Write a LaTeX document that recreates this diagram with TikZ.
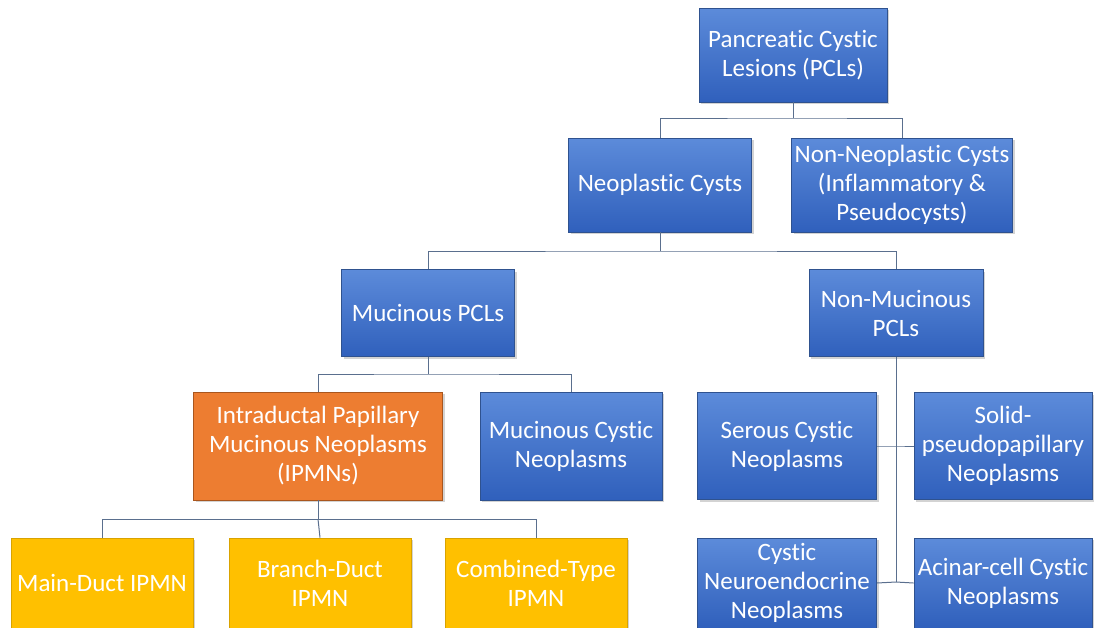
\documentclass[tikz,border=0pt]{standalone}
\usepackage{fontspec}
\setmainfont[Ligatures=NoCommon]{Carlito}
\usetikzlibrary{shadows}

\definecolor{blueTop}{HTML}{5C8BDA}
\definecolor{blueBot}{HTML}{3060BC}
\definecolor{blueLine}{HTML}{2F528F}
\definecolor{orangeFill}{HTML}{ED7D31}
\definecolor{orangeLine}{HTML}{A9561E}
\definecolor{yellowFill}{HTML}{FFC000}
\definecolor{yellowLine}{HTML}{D9A300}
\definecolor{linkCol}{HTML}{5A6F8E}

\tikzset{
    box/.style={draw=blueLine, line width=0.8pt, top color=blueTop, bottom color=blueBot,
        text=white, align=center, inner sep=2pt, font=\fontsize{25}{29}\selectfont,
        drop shadow={opacity=0.35, shadow xshift=2pt, shadow yshift=-2pt}},
    hotbox/.style={box, draw=orangeLine, top color=orangeFill, bottom color=orangeFill},
    subbox/.style={box, draw=yellowLine, top color=yellowFill, bottom color=yellowFill},
    link/.style={draw=linkCol, line width=1pt}
}

\begin{document}
\begin{tikzpicture}[x=1pt, y=-1pt]
\useasboundingbox (0,0) rectangle (1094,627);

% Top level
\node[box, minimum width=188pt, minimum height=94pt] (pcl) at (793,55) {Pancreatic Cystic\\Lesions (PCLs)};
\node[box, minimum width=183pt, minimum height=94pt] (neo) at (660,185) {Neoplastic Cysts};
\node[box, minimum width=221pt, minimum height=94pt] (nonneo) at (902,185) {Non-Neoplastic Cysts\\(Inflammatory \&\\Pseudocysts)};

% Mucinous / non-mucinous
\node[box, minimum width=173pt, minimum height=87pt] (muc) at (428,313) {Mucinous PCLs};
\node[box, minimum width=174pt, minimum height=87pt] (nonmuc) at (896,313) {Non-Mucinous\\PCLs};

\node[hotbox, minimum width=249pt, minimum height=108pt] (ipmn) at (318,446) {Intraductal Papillary\\Mucinous Neoplasms\\(IPMNs)};
\node[box, minimum width=182pt, minimum height=108pt] (mcn) at (571,446) {Mucinous Cystic\\Neoplasms};

% Non-mucinous types
\node[box, minimum width=179pt, minimum height=107pt] (serous) at (787,446) {Serous Cystic\\Neoplasms};
\node[box, minimum width=178pt, minimum height=107pt] (spn) at (1003,446) {Solid-\\pseudopapillary\\Neoplasms};
\node[box, minimum width=179pt, minimum height=90pt] (pnet) at (787,583) {Cystic\\Neuroendocrine\\Neoplasms};
\node[box, minimum width=178pt, minimum height=90pt] (acinar) at (1003,583) {Acinar-cell Cystic\\Neoplasms};

% IPMN subtypes
\foreach \name/\x/\txt in {
    main/102/Main-Duct IPMN,
    branch/320/Branch-Duct\\IPMN,
    combined/536/Combined-Type\\IPMN
} {
    \node[subbox, minimum width=182pt, minimum height=90pt] (\name) at (\x,583) {\txt};
}

% Connectors
\coordinate (j1) at (793,118);
\coordinate (j2) at (660,251);
\coordinate (j3) at (428,374);
\coordinate (j4) at (318,519);
\coordinate (j5) at (896,446);
\coordinate (j6) at (896,582);

\draw[link] (pcl) -- (j1);
\draw[link] (neo.north) |- (j1) -| (nonneo.north);
\draw[link] (neo) -- (j2);
\draw[link] (muc.north) |- (j2) -| (nonmuc.north);
\draw[link] (muc) -- (j3);
\draw[link] (ipmn.north) |- (j3) -| (mcn.north);
\draw[link] (ipmn) -- (j4);
\draw[link] (main.north) |- (j4) -| (combined.north);
\draw[link] (j4) -- (branch.north);
\draw[link] (nonmuc) -- (j6);
\draw[link] (serous.east) -- (j5) -- (spn.west);
\draw[link] (pnet.east) -- (j6) -- (acinar.west);
\end{tikzpicture}
\end{document}
